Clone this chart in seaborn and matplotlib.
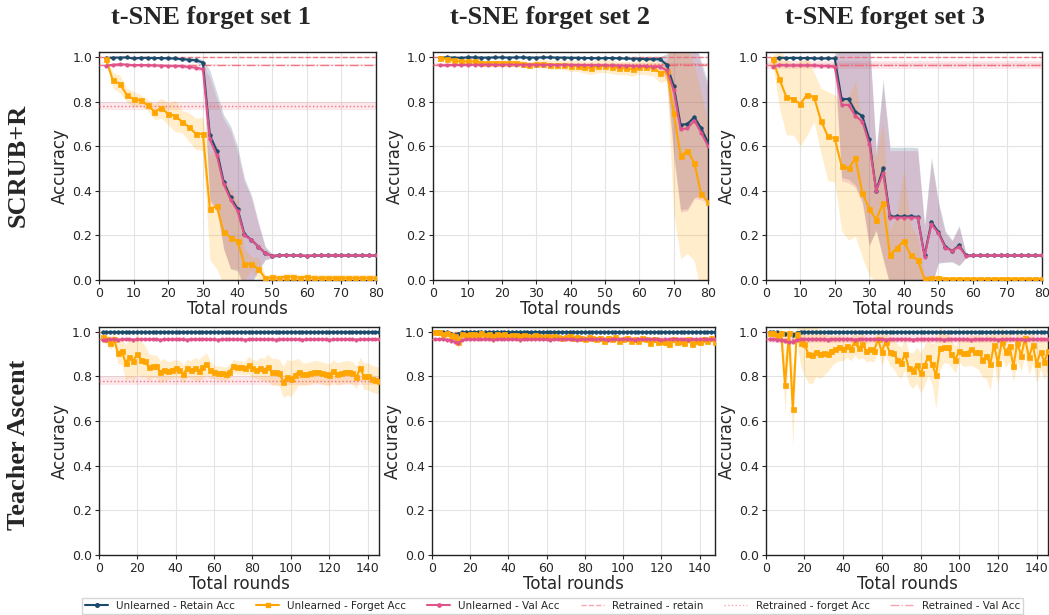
import matplotlib
matplotlib.use("Agg")
import matplotlib.pyplot as plt
from matplotlib.lines import Line2D
import numpy as np
import seaborn as sns

# ---------------- DATA ----------------
titles = ["t-SNE forget set 1", "t-SNE forget set 2", "t-SNE forget set 3"]
row_labels = ["SCRUB+R", "Teacher Ascent"]
legend_labels = ["Unlearned - Retain Acc", "Unlearned - Forget Acc", "Unlearned - Val Acc",
                 "Retrained - retain", "Retrained - forget Acc", "Retrained - Val Acc"]

rounds_top = list(range(2, 81, 2))
rounds_bot = [list(range(2, 147, 2)), list(range(2, 149, 2)), list(range(2, 147, 2))]
xmax_top = [80, 80, 80]
xmax_bot = [146, 148, 146]

# ---- SCRUB+R, set 1
s1_retain = [0.995, 0.997, 0.997, 0.998, 0.993, 0.996, 0.996, 0.995, 0.995, 0.994, 0.993, 0.990, 0.988, 0.985, 0.975,
             0.65, 0.58, 0.44, 0.37, 0.32, 0.205, 0.18, 0.15, 0.12, 0.108,
             0.11, 0.112, 0.11, 0.11, 0.108, 0.11, 0.11, 0.11, 0.11, 0.11, 0.11, 0.11, 0.11, 0.11, 0.11]
s1_retain_sd = [0.004, 0.003, 0.003, 0.003, 0.006, 0.004, 0.004, 0.004, 0.004, 0.005, 0.006, 0.007, 0.008, 0.010, 0.015,
                0.29, 0.26, 0.30, 0.32, 0.28, 0.25, 0.20, 0.11, 0.03, 0.01,
                0.005, 0.005, 0.005, 0.005, 0.005, 0.005, 0.005, 0.005, 0.005, 0.005, 0.005, 0.005, 0.005, 0.005, 0.005]
s1_val = [0.960, 0.965, 0.967, 0.966, 0.963, 0.964, 0.963, 0.962, 0.961, 0.960, 0.960, 0.958, 0.955, 0.952, 0.945,
          0.63, 0.56, 0.43, 0.36, 0.31, 0.20, 0.18, 0.15, 0.12, 0.108,
          0.11, 0.111, 0.11, 0.11, 0.109, 0.11, 0.11, 0.11, 0.11, 0.11, 0.11, 0.11, 0.11, 0.11, 0.11]
s1_val_sd = [0.007, 0.006, 0.006, 0.006, 0.007, 0.006, 0.006, 0.006, 0.006, 0.006, 0.007, 0.007, 0.008, 0.009, 0.012,
             0.28, 0.25, 0.29, 0.31, 0.26, 0.24, 0.19, 0.10, 0.025, 0.008,
             0.004, 0.004, 0.004, 0.004, 0.004, 0.004, 0.004, 0.004, 0.004, 0.004, 0.004, 0.004, 0.004, 0.004, 0.004]
s1_forget = [0.99, 0.895, 0.88, 0.83, 0.81, 0.805, 0.785, 0.755, 0.77, 0.745, 0.735, 0.71, 0.685, 0.655, 0.655,
             0.32, 0.33, 0.215, 0.19, 0.175, 0.07, 0.072, 0.05, 0.008, 0.012,
             0.01, 0.015, 0.015, 0.01, 0.015, 0.01, 0.01, 0.01, 0.01, 0.01, 0.01, 0.01, 0.01, 0.01, 0.01]
s1_forget_sd = [0.01, 0.035, 0.04, 0.03, 0.035, 0.025, 0.025, 0.035, 0.045, 0.05, 0.07, 0.05, 0.065, 0.07, 0.075,
                0.23, 0.28, 0.24, 0.22, 0.18, 0.07, 0.03, 0.05, 0.015, 0.015,
                0.015, 0.015, 0.015, 0.015, 0.015, 0.015, 0.015, 0.015, 0.015, 0.015, 0.015, 0.015, 0.015, 0.015, 0.015]

# ---- SCRUB+R, set 2
s2_retain = [0.997, 0.998, 0.997, 0.996, 0.998, 0.998, 0.997, 0.997, 0.998, 0.998, 0.997, 0.998, 0.998, 0.997, 0.997, 0.998,
             0.998, 0.997, 0.997, 0.996, 0.996, 0.995, 0.995, 0.994, 0.995, 0.995, 0.994, 0.993, 0.992, 0.992, 0.990, 0.990,
             0.99, 0.965, 0.87, 0.695, 0.70, 0.73, 0.68, 0.615]
s2_retain_sd = [0.003] * 0 + [0.003, 0.003, 0.003, 0.003, 0.003, 0.003, 0.003, 0.003, 0.003, 0.003, 0.003, 0.003, 0.003, 0.003, 0.003, 0.003,
                0.003, 0.003, 0.003, 0.003, 0.003, 0.003, 0.003, 0.003, 0.003, 0.003, 0.004, 0.004, 0.004, 0.004, 0.005, 0.006,
                0.012, 0.05, 0.30, 0.38, 0.38, 0.36, 0.30, 0.27]
s2_val = [0.962, 0.963, 0.964, 0.964, 0.965, 0.965, 0.965, 0.966, 0.965, 0.965, 0.966, 0.965, 0.965, 0.966, 0.965, 0.965,
          0.965, 0.964, 0.965, 0.965, 0.964, 0.964, 0.963, 0.963, 0.962, 0.962, 0.961, 0.961, 0.960, 0.960, 0.958, 0.957,
          0.955, 0.94, 0.85, 0.675, 0.68, 0.715, 0.66, 0.60]
s2_val_sd = [0.005, 0.005, 0.005, 0.005, 0.005, 0.005, 0.005, 0.005, 0.005, 0.005, 0.005, 0.005, 0.005, 0.005, 0.005, 0.005,
             0.005, 0.005, 0.005, 0.005, 0.005, 0.005, 0.005, 0.005, 0.006, 0.006, 0.006, 0.006, 0.006, 0.006, 0.007, 0.008,
             0.012, 0.05, 0.30, 0.37, 0.37, 0.35, 0.30, 0.26]
s2_forget = [0.995, 0.99, 0.985, 0.98, 0.98, 0.98, 0.975, 0.975, 0.975, 0.975, 0.975, 0.975, 0.97, 0.965, 0.97, 0.97,
             0.965, 0.965, 0.965, 0.96, 0.96, 0.955, 0.95, 0.96, 0.96, 0.955, 0.95, 0.95, 0.945, 0.955, 0.955, 0.95,
             0.93, 0.935, 0.75, 0.555, 0.58, 0.525, 0.385, 0.35]
s2_forget_sd = [0.005, 0.008, 0.008, 0.008, 0.01, 0.01, 0.01, 0.01, 0.01, 0.012, 0.012, 0.012, 0.014, 0.015, 0.015, 0.018,
                0.02, 0.02, 0.022, 0.025, 0.025, 0.027, 0.03, 0.03, 0.03, 0.03, 0.03, 0.03, 0.032, 0.032, 0.035, 0.035,
                0.045, 0.04, 0.45, 0.46, 0.46, 0.44, 0.45, 0.35]

# ---- SCRUB+R, set 3
s3_retain = [0.99, 0.997, 0.995, 0.996, 0.995, 0.995, 0.994, 0.993, 0.994, 0.993,
             0.81, 0.812, 0.755, 0.735, 0.63, 0.40, 0.50, 0.285, 0.285, 0.285, 0.285, 0.283, 0.11, 0.26, 0.215,
             0.15, 0.13, 0.155, 0.11,
             0.11, 0.11, 0.11, 0.11, 0.11, 0.11, 0.11, 0.11, 0.11, 0.11, 0.11]
s3_retain_sd = [0.005, 0.004, 0.004, 0.004, 0.004, 0.004, 0.004, 0.004, 0.004, 0.005,
                0.35, 0.36, 0.33, 0.38, 0.47, 0.18, 0.40, 0.31, 0.31, 0.31, 0.31, 0.31, 0.14, 0.29, 0.14,
                0.07, 0.05, 0.09, 0.01,
                0.005, 0.005, 0.005, 0.005, 0.005, 0.005, 0.005, 0.005, 0.005, 0.005, 0.005]
s3_val = [0.955, 0.965, 0.962, 0.962, 0.962, 0.962, 0.962, 0.960, 0.960, 0.955,
          0.785, 0.785, 0.735, 0.71, 0.61, 0.40, 0.48, 0.28, 0.28, 0.28, 0.28, 0.28, 0.105, 0.25, 0.21,
          0.145, 0.13, 0.15, 0.108,
          0.11, 0.11, 0.11, 0.11, 0.11, 0.11, 0.11, 0.11, 0.11, 0.11, 0.11]
s3_val_sd = [0.008, 0.007, 0.007, 0.007, 0.007, 0.007, 0.007, 0.007, 0.007, 0.008,
             0.34, 0.35, 0.32, 0.37, 0.46, 0.17, 0.39, 0.30, 0.30, 0.30, 0.30, 0.30, 0.13, 0.28, 0.13,
             0.065, 0.045, 0.085, 0.01,
             0.004, 0.004, 0.004, 0.004, 0.004, 0.004, 0.004, 0.004, 0.004, 0.004, 0.004]
s3_forget = [0.99, 0.90, 0.82, 0.81, 0.79, 0.83, 0.82, 0.715, 0.645, 0.635,
             0.51, 0.50, 0.545, 0.39, 0.32, 0.27, 0.345, 0.11, 0.145, 0.175, 0.11, 0.09, 0.005, 0.01, 0.01,
             0.005, 0.005, 0.005, 0.005, 0.005, 0.005, 0.005, 0.005, 0.005, 0.005, 0.005, 0.005, 0.005, 0.005, 0.005]
s3_forget_sd = [0.015, 0.13, 0.17, 0.16, 0.19, 0.18, 0.11, 0.145, 0.20, 0.195,
                0.29, 0.32, 0.35, 0.29, 0.30, 0.28, 0.36, 0.11, 0.155, 0.32, 0.14, 0.10, 0.015, 0.012, 0.012,
                0.01, 0.01, 0.01, 0.01, 0.01, 0.01, 0.01, 0.01, 0.01, 0.01, 0.01, 0.01, 0.01, 0.01, 0.01]

# ---- Teacher Ascent, set 1 (x = 2..146)
t1_retain = [0.996, 0.997, 0.998, 0.998, 0.997, 0.998, 0.998, 0.998, 0.997, 0.998,
             0.998, 0.998, 0.998, 0.997, 0.998, 0.998, 0.998, 0.998, 0.998, 0.997,
             0.998, 0.998, 0.998, 0.998, 0.998, 0.997, 0.998, 0.998, 0.998, 0.998,
             0.998, 0.998, 0.997, 0.998, 0.998, 0.998, 0.998, 0.998, 0.998, 0.998,
             0.997, 0.998, 0.998, 0.998, 0.998, 0.998, 0.998, 0.997, 0.998, 0.998,
             0.998, 0.998, 0.998, 0.998, 0.998, 0.997, 0.998, 0.998, 0.998, 0.998,
             0.998, 0.998, 0.998, 0.997, 0.998, 0.998, 0.998, 0.998, 0.998, 0.998,
             0.998, 0.998, 0.998]
t1_val = [0.962, 0.964, 0.965, 0.965, 0.964, 0.965, 0.966, 0.965, 0.964, 0.965,
          0.965, 0.965, 0.966, 0.965, 0.965, 0.964, 0.965, 0.965, 0.965, 0.966,
          0.965, 0.965, 0.964, 0.965, 0.965, 0.965, 0.966, 0.965, 0.965, 0.965,
          0.964, 0.965, 0.965, 0.965, 0.966, 0.965, 0.965, 0.964, 0.965, 0.965,
          0.965, 0.966, 0.965, 0.965, 0.965, 0.964, 0.965, 0.965, 0.965, 0.966,
          0.965, 0.965, 0.964, 0.965, 0.965, 0.965, 0.966, 0.965, 0.965, 0.964,
          0.965, 0.965, 0.965, 0.966, 0.965, 0.965, 0.964, 0.965, 0.965, 0.965,
          0.966, 0.965, 0.965]
t1_forget = [0.975, 0.965, 0.95, 0.965, 0.905, 0.915, 0.86, 0.885, 0.87, 0.90,
             0.875, 0.87, 0.84, 0.845, 0.845, 0.82, 0.83, 0.825, 0.83, 0.835,
             0.83, 0.81, 0.835, 0.83, 0.835, 0.825, 0.84, 0.855, 0.83, 0.82,
             0.815, 0.815, 0.81, 0.82, 0.845, 0.84, 0.84, 0.835, 0.85, 0.835,
             0.83, 0.835, 0.83, 0.84, 0.82, 0.82, 0.815, 0.775, 0.795, 0.79,
             0.805, 0.82, 0.81, 0.81, 0.815, 0.82, 0.82, 0.815, 0.81, 0.805,
             0.825, 0.81, 0.815, 0.82, 0.82, 0.815, 0.795, 0.835, 0.80, 0.80,
             0.79, 0.785, 0.78]
t1_forget_sd = [0.02, 0.02, 0.03, 0.03, 0.05, 0.06, 0.08, 0.09, 0.09, 0.09,
                0.08, 0.07, 0.06, 0.05, 0.05, 0.05, 0.05, 0.04, 0.04, 0.04,
                0.04, 0.04, 0.04, 0.04, 0.05, 0.05, 0.05, 0.05, 0.04, 0.03,
                0.03, 0.03, 0.03, 0.03, 0.03, 0.03, 0.03, 0.03, 0.04, 0.04,
                0.04, 0.05, 0.05, 0.06, 0.06, 0.06, 0.06, 0.07, 0.08, 0.08,
                0.07, 0.06, 0.05, 0.05, 0.05, 0.05, 0.05, 0.05, 0.05, 0.05,
                0.05, 0.05, 0.05, 0.05, 0.05, 0.05, 0.05, 0.05, 0.06, 0.06,
                0.06, 0.06, 0.06]

# ---- Teacher Ascent, set 2 (x = 2..148)
t2_retain = [0.998, 0.998, 0.997, 0.996, 0.990, 0.985, 0.988, 0.997, 0.998, 0.998,
             0.998, 0.998, 0.998, 0.997, 0.998, 0.998, 0.998, 0.998, 0.998, 0.997,
             0.998, 0.998, 0.998, 0.998, 0.998, 0.997, 0.998, 0.998, 0.998, 0.998,
             0.998, 0.998, 0.997, 0.998, 0.998, 0.998, 0.998, 0.998, 0.998, 0.998,
             0.997, 0.998, 0.998, 0.998, 0.998, 0.998, 0.998, 0.997, 0.998, 0.998,
             0.998, 0.998, 0.998, 0.998, 0.998, 0.997, 0.998, 0.998, 0.998, 0.998,
             0.998, 0.998, 0.998, 0.997, 0.998, 0.998, 0.998, 0.998, 0.998, 0.998,
             0.998, 0.998, 0.998, 0.998]
t2_val = [0.965, 0.966, 0.965, 0.964, 0.960, 0.955, 0.950, 0.962, 0.965, 0.965,
          0.965, 0.965, 0.966, 0.965, 0.965, 0.964, 0.965, 0.965, 0.965, 0.966,
          0.965, 0.965, 0.964, 0.965, 0.965, 0.965, 0.966, 0.965, 0.965, 0.965,
          0.964, 0.965, 0.965, 0.965, 0.966, 0.965, 0.965, 0.964, 0.965, 0.965,
          0.965, 0.966, 0.965, 0.965, 0.965, 0.964, 0.965, 0.965, 0.965, 0.966,
          0.965, 0.965, 0.964, 0.965, 0.965, 0.965, 0.966, 0.965, 0.965, 0.964,
          0.965, 0.965, 0.965, 0.966, 0.965, 0.965, 0.964, 0.965, 0.965, 0.965,
          0.966, 0.965, 0.965, 0.965]
t2_forget = [1.0, 1.0, 0.99, 0.995, 0.985, 0.98, 0.955, 0.99, 0.985, 0.99,
             0.99, 0.985, 0.995, 0.985, 0.99, 0.98, 0.99, 0.985, 0.99, 0.98,
             0.985, 0.985, 0.98, 0.985, 0.98, 0.975, 0.985, 0.98, 0.975, 0.98,
             0.975, 0.98, 0.975, 0.97, 0.975, 0.98, 0.97, 0.975, 0.97, 0.965,
             0.975, 0.97, 0.965, 0.97, 0.96, 0.97, 0.965, 0.975, 0.96, 0.965,
             0.97, 0.96, 0.965, 0.96, 0.97, 0.965, 0.95, 0.965, 0.955, 0.96,
             0.955, 0.945, 0.965, 0.955, 0.96, 0.95, 0.965, 0.945, 0.96, 0.955,
             0.965, 0.96, 0.97, 0.955]
t2_forget_sd = [0.005, 0.005, 0.01, 0.01, 0.015, 0.02, 0.03, 0.01, 0.01, 0.01,
                0.01, 0.01, 0.01, 0.01, 0.01, 0.01, 0.01, 0.01, 0.01, 0.01,
                0.01, 0.01, 0.01, 0.01, 0.01, 0.01, 0.01, 0.01, 0.01, 0.01,
                0.01, 0.01, 0.01, 0.01, 0.01, 0.01, 0.01, 0.01, 0.01, 0.01,
                0.015, 0.015, 0.015, 0.015, 0.015, 0.015, 0.015, 0.015, 0.015, 0.015,
                0.015, 0.015, 0.015, 0.015, 0.015, 0.015, 0.02, 0.015, 0.02, 0.02,
                0.02, 0.02, 0.015, 0.02, 0.02, 0.02, 0.015, 0.02, 0.02, 0.02,
                0.015, 0.015, 0.015, 0.015]

# ---- Teacher Ascent, set 3 (x = 2..146)
t3_retain = [0.998, 0.998, 0.997, 0.995, 0.988, 0.990, 0.985, 0.995, 0.998, 0.998,
             0.998, 0.998, 0.998, 0.997, 0.998, 0.998, 0.998, 0.998, 0.998, 0.997,
             0.998, 0.998, 0.998, 0.998, 0.998, 0.997, 0.998, 0.998, 0.998, 0.998,
             0.998, 0.998, 0.997, 0.998, 0.998, 0.998, 0.998, 0.998, 0.998, 0.998,
             0.997, 0.998, 0.998, 0.998, 0.998, 0.998, 0.998, 0.997, 0.998, 0.998,
             0.998, 0.998, 0.998, 0.998, 0.998, 0.997, 0.998, 0.998, 0.998, 0.998,
             0.998, 0.998, 0.998, 0.997, 0.998, 0.998, 0.998, 0.998, 0.998, 0.998,
             0.998, 0.998, 0.998]
t3_val = [0.966, 0.965, 0.964, 0.962, 0.956, 0.952, 0.955, 0.962, 0.965, 0.965,
          0.965, 0.965, 0.966, 0.965, 0.965, 0.964, 0.965, 0.965, 0.965, 0.966,
          0.965, 0.965, 0.964, 0.965, 0.965, 0.965, 0.966, 0.965, 0.965, 0.965,
          0.964, 0.965, 0.965, 0.965, 0.966, 0.965, 0.965, 0.964, 0.965, 0.965,
          0.965, 0.966, 0.965, 0.965, 0.965, 0.964, 0.965, 0.965, 0.965, 0.966,
          0.965, 0.965, 0.964, 0.965, 0.965, 0.965, 0.966, 0.965, 0.965, 0.964,
          0.965, 0.965, 0.965, 0.966, 0.965, 0.965, 0.964, 0.965, 0.965, 0.965,
          0.966, 0.965, 0.965]
t3_forget = [0.995, 0.995, 0.985, 0.995, 0.76, 0.995, 0.655, 0.99, 0.95, 0.945,
             0.90, 0.895, 0.91, 0.90, 0.905, 0.90, 0.915, 0.92, 0.93, 0.92,
             0.935, 0.92, 0.955, 0.925, 0.945, 0.915, 0.92, 0.915, 0.965, 0.91,
             0.955, 0.91, 0.905, 0.875, 0.86, 0.90, 0.835, 0.825, 0.85, 0.815,
             0.85, 0.885, 0.855, 0.805, 0.925, 0.93, 0.93, 0.90, 0.875, 0.915,
             0.905, 0.905, 0.92, 0.91, 0.91, 0.875, 0.89, 0.855, 0.94, 0.86,
             0.955, 0.91, 0.935, 0.845, 0.95, 0.89, 0.97, 0.885, 0.94, 0.855,
             0.91, 0.865, 0.915]
t3_forget_sd = [0.01, 0.01, 0.02, 0.02, 0.13, 0.05, 0.175, 0.03, 0.10, 0.14,
                0.13, 0.13, 0.11, 0.11, 0.10, 0.08, 0.07, 0.06, 0.06, 0.05,
                0.05, 0.05, 0.06, 0.05, 0.06, 0.05, 0.05, 0.05, 0.05, 0.06,
                0.06, 0.06, 0.07, 0.07, 0.07, 0.07, 0.07, 0.08, 0.08, 0.09,
                0.09, 0.08, 0.09, 0.15, 0.10, 0.07, 0.07, 0.06, 0.06, 0.05,
                0.06, 0.06, 0.07, 0.07, 0.08, 0.08, 0.10, 0.12, 0.08, 0.10,
                0.07, 0.07, 0.07, 0.07, 0.08, 0.07, 0.07, 0.08, 0.08, 0.08,
                0.08, 0.08, 0.08]
bot_retain_sd = [0.003, 0.003, 0.004]
bot_val_sd = [0.005, 0.005, 0.01]

# retrained reference levels per forget set
retrained_retain = [1.0, 1.0, 1.0]
retrained_forget = [0.78, 0.968, 0.965]
retrained_forget_sd = [0.02, 0.004, 0.018]
retrained_val = [0.965, 0.965, 0.965]
retrained_val_sd = [0.004, 0.004, 0.006]

# ---------------- STYLE ----------------
sns.set_style("ticks")
plt.rcParams["font.family"] = ["DejaVu Sans"]

C_RET = "#1b4a6b"
C_FOR = "#ffa500"
C_VAL = "#e0528a"
C_RT = "#f06a78"

fig = plt.figure(figsize=(10.49, 6.15), dpi=100)

top_pos = [(0.0944, 0.5447, 0.2641, 0.3707), (0.4131, 0.5447, 0.2619, 0.3707), (0.7299, 0.5447, 0.2634, 0.3707)]
bot_pos = [(0.0941, 0.0976, 0.2675, 0.3712), (0.4115, 0.0976, 0.2701, 0.3712), (0.7299, 0.0976, 0.2694, 0.3712)]

top_data = [
    (s1_retain, s1_retain_sd, s1_forget, s1_forget_sd, s1_val, s1_val_sd),
    (s2_retain, s2_retain_sd, s2_forget, s2_forget_sd, s2_val, s2_val_sd),
    (s3_retain, s3_retain_sd, s3_forget, s3_forget_sd, s3_val, s3_val_sd),
]
bot_data = [
    (t1_retain, None, t1_forget, t1_forget_sd, t1_val, None),
    (t2_retain, None, t2_forget, t2_forget_sd, t2_val, None),
    (t3_retain, None, t3_forget, t3_forget_sd, t3_val, None),
]


def draw_panel(ax, x, data, k, xmax, xticks, rsd=None, vsd=None):
    ret, ret_sd, fgt, fgt_sd, val, val_sd = data
    x = np.asarray(x)
    ret = np.asarray(ret); fgt = np.asarray(fgt); val = np.asarray(val)
    ret_sd = np.asarray(ret_sd) if ret_sd is not None else np.full(len(x), rsd)
    val_sd = np.asarray(val_sd) if val_sd is not None else np.full(len(x), vsd)
    fgt_sd = np.asarray(fgt_sd)

    # retrained references
    ax.axhspan(retrained_forget[k] - retrained_forget_sd[k], retrained_forget[k] + retrained_forget_sd[k],
               color=C_RT, alpha=0.15, lw=0, zorder=1)
    ax.axhspan(retrained_val[k] - retrained_val_sd[k], retrained_val[k] + retrained_val_sd[k],
               color=C_RT, alpha=0.15, lw=0, zorder=1)

    ax.fill_between(x, ret - ret_sd, ret + ret_sd, color=C_RET, alpha=0.2, lw=0, zorder=2)
    ax.fill_between(x, fgt - fgt_sd, fgt + fgt_sd, color=C_FOR, alpha=0.2, lw=0, zorder=2)
    ax.fill_between(x, val - val_sd, val + val_sd, color=C_VAL, alpha=0.2, lw=0, zorder=2)

    sns.lineplot(x=x, y=ret, ax=ax, color=C_RET, marker="o", markersize=2.6, mec=C_RET, mew=0.5,
                 linewidth=1.5, legend=False, zorder=4)
    sns.lineplot(x=x, y=fgt, ax=ax, color=C_FOR, marker="s", markersize=3.6, mec=C_FOR, mew=0.5,
                 linewidth=1.5, legend=False, zorder=4)
    sns.lineplot(x=x, y=val, ax=ax, color=C_VAL, marker="o", markersize=2.4, mec=C_VAL, mew=0.5,
                 linewidth=1.5, legend=False, zorder=4)

    ax.axhline(retrained_retain[k], ls="--", color=C_RT, lw=1.0, alpha=0.9, zorder=3)
    ax.axhline(retrained_forget[k], ls=":", color=C_RT, lw=1.0, alpha=0.9, zorder=3)
    ax.axhline(retrained_val[k], ls="-.", color=C_RT, lw=1.0, alpha=0.9, zorder=3)

    ax.set_xlim(0, xmax)
    ax.set_ylim(0, 1.022)
    ax.set_xticks(xticks)
    ax.set_yticks([0.0, 0.2, 0.4, 0.6, 0.8, 1.0])
    ax.set_yticklabels(["0.0", "0.2", "0.4", "0.6", "0.8", "1.0"])
    ax.grid(True, color="#e3e3e3", lw=0.8, zorder=0)
    ax.set_axisbelow(True)
    ax.tick_params(labelsize=9, length=3, width=0.8, pad=2)
    ax.set_xlabel("Total rounds", fontsize=12, labelpad=0)
    ax.set_ylabel("Accuracy", fontsize=12, labelpad=2)
    for s in ax.spines.values():
        s.set_color("#222222")
        s.set_linewidth(1.0)


for k in range(3):
    ax = fig.add_axes(top_pos[k])
    draw_panel(ax, rounds_top, top_data[k], k, xmax_top[k], list(range(0, 81, 10)))
for k in range(3):
    ax = fig.add_axes(bot_pos[k])
    draw_panel(ax, rounds_bot[k], bot_data[k], k, xmax_bot[k], list(range(0, 141, 20)),
               rsd=bot_retain_sd[k], vsd=bot_val_sd[k])

title_x = [0.2011, 0.5243, 0.8440]
for k in range(3):
    fig.text(title_x[k], 0.971, titles[k], ha="center", va="center",
             fontsize=19, fontweight="bold", family="Liberation Serif")
fig.text(0.0172, 0.7317, row_labels[0], rotation=90, ha="center", va="center",
         fontsize=19, fontweight="bold", family="Liberation Serif")
fig.text(0.0172, 0.2764, row_labels[1], rotation=90, ha="center", va="center",
         fontsize=19, fontweight="bold", family="Liberation Serif")

handles = [
    Line2D([], [], color=C_RET, marker="o", ms=2.6, lw=1.5),
    Line2D([], [], color=C_FOR, marker="s", ms=3.0, lw=1.5),
    Line2D([], [], color=C_VAL, marker="o", ms=2.4, lw=1.5),
    Line2D([], [], color=C_RT, ls="--", lw=1.0, alpha=0.6),
    Line2D([], [], color=C_RT, ls=":", lw=1.0, alpha=0.6),
    Line2D([], [], color=C_RT, ls="-.", lw=1.0, alpha=0.6),
]
fig.legend(handles, legend_labels, loc="lower center", bbox_to_anchor=(0.5267, 0.0), ncol=6,
           fontsize=7.5, frameon=True, fancybox=False, edgecolor="#cccccc", handlelength=2.2,
           borderaxespad=0.1, borderpad=0.3, columnspacing=2.0)

fig.savefig("out.png", dpi=100)
